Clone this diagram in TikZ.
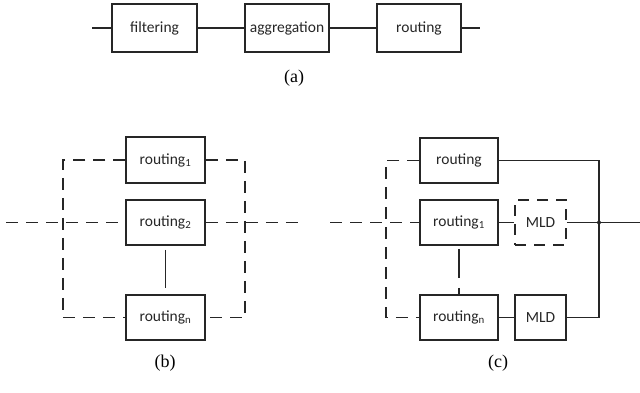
\documentclass[tikz,border=0pt]{standalone}
\usepackage{fontspec}
\setmainfont{Liberation Serif}
\newfontfamily\boxfont{Carlito}
\begin{document}
\begin{tikzpicture}[x=1pt,y=-1pt,
  line width=1.5pt, draw=black!85,
  blk/.style={draw=black!85, line width=1.5pt, minimum height=45pt, inner sep=0pt,
    font=\boxfont\fontsize{15.5}{18}\selectfont, text=black!85},
  dblk/.style={blk, dash pattern=on 11pt off 8pt},
  dsh/.style={dash pattern=on 12pt off 8pt},
  captext/.style={font=\fontsize{18}{20}\selectfont}]
\useasboundingbox (0,0) rectangle (640,392);
% (a)
\node[blk, minimum width=85pt, minimum height=48pt] (fil) at (154.5,28) {filtering};
\node[blk, minimum width=84pt, minimum height=48pt] (agg) at (287,28) {aggregation};
\node[blk, minimum width=84pt, minimum height=48pt] (rou) at (419,28) {routing};
\coordinate (ain) at (92,28);
\coordinate (aout) at (480,28);
\draw (ain) -- (fil.west);
\draw (fil.east) -- (agg.west);
\draw (agg.east) -- (rou.west);
\draw (rou.east) -- (aout);
\node[captext] (la) at (294,78) {(a)};
% (b)
\node[blk, minimum width=79pt, minimum height=46pt] (b1) at (165.5,160) {routing\textsubscript{1}};
\node[blk, minimum width=79pt] (b2) at (165.5,222.5) {routing\textsubscript{2}};
\node[blk, minimum width=79pt] (bn) at (165.5,317.5) {routing\textsubscript{n}};
\coordinate (bin) at (6,222.5);
\coordinate (bout) at (300,222.5);
\coordinate (bl) at (63,222.5);
\coordinate (br) at (245,222.5);
\draw[dsh] (bin) -- (b2.west);
\draw[dsh] (b2.east) -- (bout);
\draw[dsh] (b1.west) -| (bl) |- (bn.west);
\draw[dsh] (b1.east) -| (br) |- (bn.east);
\draw[dash pattern=on 0pt off 4pt on 38pt off 30pt] (b2.south) -- (bn.north);
\node[captext] (lb) at (165,363) {(b)};
% (c)
\node[blk, minimum width=78pt] (c0) at (459,160.5) {routing};
\node[blk, minimum width=78pt] (c1) at (459,222.5) {routing\textsubscript{1}};
\node[blk, minimum width=78pt] (cn) at (459,317.5) {routing\textsubscript{n}};
\node[dblk, minimum width=51pt] (m1) at (540.5,222.5) {MLD};
\node[blk, minimum width=51pt] (m2) at (540.5,317.5) {MLD};
\coordinate (cin) at (330,222.5);
\coordinate (cl) at (386,222.5);
\coordinate (jn) at (599,222.5);
\coordinate (cout) at (640,222.5);
\draw[dsh] (cin) -- (c1.west);
\draw[dsh] (c0.west) -| (cl) |- (cn.west);
\draw[dash pattern=on 0pt off 3pt on 29pt off 10pt on 10pt off 10pt] (c1.south) -- (cn.north);
\draw (c1.east) -- (m1.west);
\draw (cn.east) -- (m2.west);
\draw (m1.east) -- (jn) -- (cout);
\draw (c0.east) -| (jn);
\draw (m2.east) -| (jn);
\fill[black!85] (jn) circle (2pt);
\node[captext] (lc) at (498,363) {(c)};
\end{tikzpicture}
\end{document}
